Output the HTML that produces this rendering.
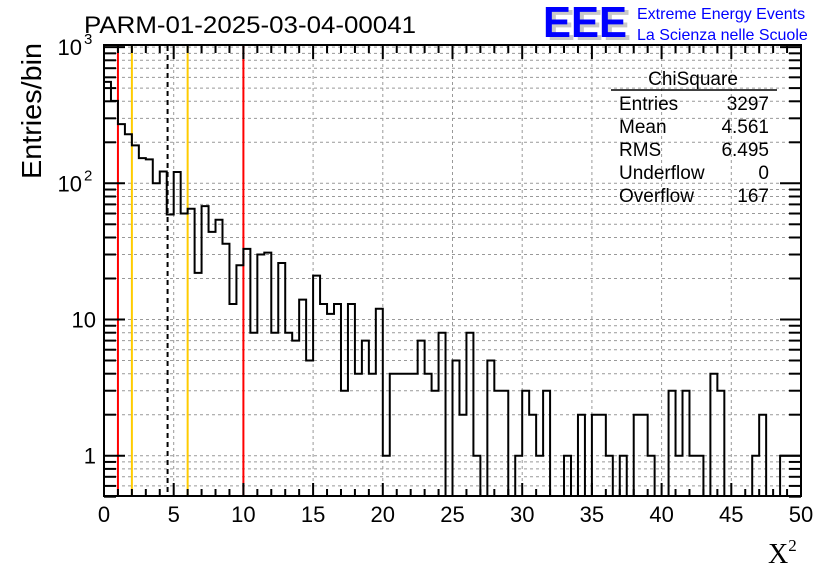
<!DOCTYPE html>
<html><head><meta charset="utf-8"><style>
html,body{margin:0;padding:0;background:#fff;}
svg{display:block;font-family:"Liberation Sans",sans-serif;}
</style></head><body>
<svg id="chart" width="836" height="572" viewBox="0 0 836 572">
<text x="84" y="33" font-size="24" textLength="332" lengthAdjust="spacingAndGlyphs">PARM-01-2025-03-04-00041</text>
<g>
<text x="547" y="40" font-size="44" font-weight="bold" fill="#c8c8c8" textLength="84" lengthAdjust="spacingAndGlyphs">EEE</text>
<text x="543" y="37" font-size="44" font-weight="bold" fill="#0000ff" textLength="84" lengthAdjust="spacingAndGlyphs">EEE</text>
<text x="637" y="19" font-size="16" fill="#0000ff">Extreme Energy Events</text>
<text x="637" y="40" font-size="16" fill="#0000ff">La Scienza nelle Scuole</text>
</g>
<g id="grid"></g>
<g id="marks"></g>
<g id="axes"></g>
<g font-size="19">
<text x="693" y="85" text-anchor="middle">ChiSquare</text>
<line x1="611" y1="90" x2="777" y2="90" stroke="#000" stroke-width="1.5"/>
<text x="619" y="110">Entries</text><text x="769" y="110" text-anchor="end">3297</text>
<text x="619" y="133">Mean</text><text x="769" y="133" text-anchor="end">4.561</text>
<text x="619" y="156">RMS</text><text x="769" y="156" text-anchor="end">6.495</text>
<text x="619" y="179">Underflow</text><text x="769" y="179" text-anchor="end">0</text>
<text x="619" y="202">Overflow</text><text x="769" y="202" text-anchor="end">167</text>
</g>
<text x="0" y="0" font-size="28" text-anchor="middle" transform="translate(41,111) rotate(-90)" textLength="136" lengthAdjust="spacingAndGlyphs">Entries/bin</text>
<text x="768" y="563" font-size="28" font-family="Liberation Serif, serif">X<tspan font-size="17" dy="-12">2</tspan></text>
</svg>
<script>
const counts = [556,403,272,229,190,153,150,100,122,59,121,60,65,22,68,44,54,36,13,25,33,8,30,31,8,26,8,7,14,5,21,13,11,13,3,13,4,7,4,12,1,4,4,4,4,7,4,3,8,0,5,2,8,1,0,5,3,3,0,1,3,2,1,3,0,0,1,0,2,0,2,2,1,0,1,0,2,2,1,0,0,3,1,3,1,1,0,4,3,0,0,0,0,1,2,0,0,1,1,1];
const binWidth = [0.5];
const xTicks = [0,5,10,15,20,25,30,35,40,45,50];
const yDecades = [1,10,100,1000];
const yDecadeLabels = ["1","10","10","10"];
const yDecadeExp = ["","","2","3"];
const vLineX = [1,2,6,10,4.561];
const vLineColor = ["#ff0000","#ffcc00","#ffcc00","#ff0000","#000000"];
const vLineName = ["red-line-1","orange-line-2","orange-line-6","red-line-10","mean-line"];

const X0=104,X1=801,Y0=46,Y1=496;
const xs = v => X0 + (v/50)*(X1-X0);
const ys = v => v<=0 ? Y1 : Math.max(Y0, 455.7 - 136.2*Math.log10(v));
const NS="http://www.w3.org/2000/svg";
function mk(tag, attrs, parent){const e=document.createElementNS(NS,tag);for(const k in attrs)e.setAttribute(k,attrs[k]);parent.appendChild(e);return e;}
const grid=document.getElementById('grid'), marks=document.getElementById('marks'), axes=document.getElementById('axes');

xTicks.forEach(t=>{ if(t>0&&t<50){const l=mk('line',{x1:xs(t),x2:xs(t),y1:Y0,y2:Y1,stroke:'#999','stroke-width':1,'stroke-dasharray':'3,3'},grid);

}});
for(let d=0.1; d<=1000; d*=10){
  for(let m=1;m<=9;m++){
    const v=d*m; if(v<0.5||v>1020) continue;
    const y=ys(v);
    if(y>Y0+1 && y<Y1-1){
      const g=mk('line',{x1:X0,x2:X1,y1:y,y2:y,stroke:'#999','stroke-width':1,'stroke-dasharray':'3,3'},grid);
      
      
    }
    const len = m===1?21:12;
    mk('line',{x1:X0,x2:X0+len,y1:y,y2:y,stroke:'#000','stroke-width':2},axes);
    mk('line',{x1:X1,x2:X1-len,y1:y,y2:y,stroke:'#000','stroke-width':2},axes);
  }
}
vLineX.forEach((v,i)=>{
  const l=mk('line',{x1:xs(v),x2:xs(v),y1:Y0,y2:Y1,stroke:vLineColor[i],'stroke-width':2},marks);
  if(i===4) l.setAttribute('stroke-dasharray','5,4');
  
  
});
let d='M'+xs(0)+','+Y1;
counts.forEach((c,i)=>{const xa=xs(i*binWidth[0]), xb=xs((i+1)*binWidth[0]), y=ys(c); d+=' L'+xa+','+y+' L'+xb+','+y;});
d+=' L'+xs(50)+','+Y1;
const h=mk('path',{d:d,fill:'none',stroke:'#000','stroke-width':2},marks);



const fr=mk('rect',{x:X0,y:Y0-1,width:X1-X0,height:Y1-Y0+1,fill:'none',stroke:'#000','stroke-width':2},axes);


for(let t=0;t<=50;t++){
  const len = t%5===0?13:7;
  mk('line',{x1:xs(t),x2:xs(t),y1:Y1,y2:Y1-len,stroke:'#000','stroke-width':2},axes);
  mk('line',{x1:xs(t),x2:xs(t),y1:Y0,y2:Y0+len,stroke:'#000','stroke-width':2},axes);
}
xTicks.forEach(t=>{
  const tx=mk('text',{x:xs(t),y:522,'font-size':22,'text-anchor':'middle'},axes);
  tx.textContent=String(t);
  
  
});
yDecades.forEach((v,i)=>{
  const y=ys(v);
  const tx=mk('text',{x:yDecadeExp[i]?82:96,y:y+8,'font-size':22,'text-anchor':'end'},axes);
  tx.textContent=yDecadeLabels[i];
  
  
  if(yDecadeExp[i]){
    const e=mk('text',{x:84,y:y-3,'font-size':15},axes);
    e.textContent=yDecadeExp[i];
    
    
  }
});
</script>
</body></html>
